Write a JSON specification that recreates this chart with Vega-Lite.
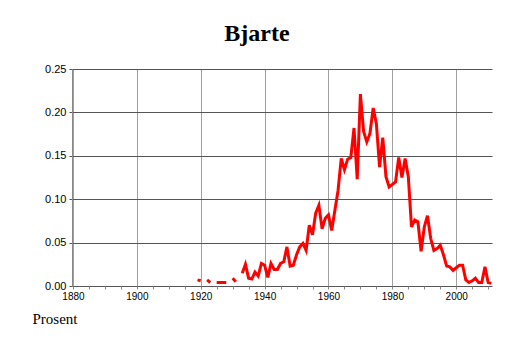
{
  "$schema": "https://vega.github.io/schema/vega-lite/v6.json",
  "autosize": "none",
  "width": 420,
  "height": 217,
  "padding": {"left": 72, "top": 69, "right": 22, "bottom": 57},
  "background": "white",
  "title": {
    "text": "Bjarte",
    "font": "Liberation Serif",
    "fontSize": 24,
    "fontWeight": "bold",
    "color": "black",
    "anchor": "middle",
    "dx": -25,
    "offset": -2,
    "baseline": "alphabetic"
  },
  "config": {
    "view": {"stroke": null}
  },
  "data": {
    "values": [
      {"year": 1919, "value": 0.007},
      {"year": 1920, "value": 0.006},
      {"year": 1921, "value": null},
      {"year": 1922, "value": 0.007},
      {"year": 1923, "value": 0.004},
      {"year": 1924, "value": null},
      {"year": 1925, "value": 0.004},
      {"year": 1926, "value": 0.004},
      {"year": 1927, "value": 0.004},
      {"year": 1928, "value": 0.004},
      {"year": 1929, "value": null},
      {"year": 1930, "value": 0.009},
      {"year": 1931, "value": 0.005},
      {"year": 1932, "value": null},
      {"year": 1933, "value": 0.0146},
      {"year": 1934, "value": 0.025},
      {"year": 1935, "value": 0.009},
      {"year": 1936, "value": 0.008},
      {"year": 1937, "value": 0.016},
      {"year": 1938, "value": 0.0115},
      {"year": 1939, "value": 0.026},
      {"year": 1940, "value": 0.024},
      {"year": 1941, "value": 0.010},
      {"year": 1942, "value": 0.026},
      {"year": 1943, "value": 0.019},
      {"year": 1944, "value": 0.019},
      {"year": 1945, "value": 0.026},
      {"year": 1946, "value": 0.028},
      {"year": 1947, "value": 0.045},
      {"year": 1948, "value": 0.023},
      {"year": 1949, "value": 0.024},
      {"year": 1950, "value": 0.036},
      {"year": 1951, "value": 0.045},
      {"year": 1952, "value": 0.049},
      {"year": 1953, "value": 0.041},
      {"year": 1954, "value": 0.070},
      {"year": 1955, "value": 0.059},
      {"year": 1956, "value": 0.084},
      {"year": 1957, "value": 0.093},
      {"year": 1958, "value": 0.066},
      {"year": 1959, "value": 0.078},
      {"year": 1960, "value": 0.082},
      {"year": 1961, "value": 0.064},
      {"year": 1962, "value": 0.087},
      {"year": 1963, "value": 0.110},
      {"year": 1964, "value": 0.147},
      {"year": 1965, "value": 0.134},
      {"year": 1966, "value": 0.146},
      {"year": 1967, "value": 0.148},
      {"year": 1968, "value": 0.182},
      {"year": 1969, "value": 0.123},
      {"year": 1970, "value": 0.221},
      {"year": 1971, "value": 0.178},
      {"year": 1972, "value": 0.166},
      {"year": 1973, "value": 0.176},
      {"year": 1974, "value": 0.205},
      {"year": 1975, "value": 0.187},
      {"year": 1976, "value": 0.137},
      {"year": 1977, "value": 0.171},
      {"year": 1978, "value": 0.126},
      {"year": 1979, "value": 0.114},
      {"year": 1980, "value": 0.117},
      {"year": 1981, "value": 0.120},
      {"year": 1982, "value": 0.148},
      {"year": 1983, "value": 0.125},
      {"year": 1984, "value": 0.147},
      {"year": 1985, "value": 0.126},
      {"year": 1986, "value": 0.068},
      {"year": 1987, "value": 0.076},
      {"year": 1988, "value": 0.074},
      {"year": 1989, "value": 0.040},
      {"year": 1990, "value": 0.068},
      {"year": 1991, "value": 0.081},
      {"year": 1992, "value": 0.055},
      {"year": 1993, "value": 0.041},
      {"year": 1994, "value": 0.043},
      {"year": 1995, "value": 0.047},
      {"year": 1996, "value": 0.036},
      {"year": 1997, "value": 0.023},
      {"year": 1998, "value": 0.022},
      {"year": 1999, "value": 0.018},
      {"year": 2000, "value": 0.021},
      {"year": 2001, "value": 0.024},
      {"year": 2002, "value": 0.024},
      {"year": 2003, "value": 0.007},
      {"year": 2004, "value": 0.004},
      {"year": 2005, "value": 0.006},
      {"year": 2006, "value": 0.009},
      {"year": 2007, "value": 0.004},
      {"year": 2008, "value": 0.004},
      {"year": 2009, "value": 0.022},
      {"year": 2010, "value": 0.004},
      {"year": 2011, "value": 0.003}
    ]
  },
  "mark": {
    "type": "line",
    "color": "#ff0000",
    "strokeWidth": 3,
    "invalid": "break-paths-show-domains",
    "clip": true
  },
  "encoding": {
    "x": {
      "field": "year",
      "type": "quantitative",
      "scale": {"domain": [1879.7, 2011.2], "nice": false, "zero": false},
      "axis": {
        "values": [1880,1885,1890,1895,1900,1905,1910,1915,1920,1925,1930,1935,1940,1945,1950,1955,1960,1965,1970,1975,1980,1985,1990,1995,2000,2005,2010],
        "labelExpr": "datum.value % 20 === 0 ? datum.label : ''",
        "format": "d",
        "grid": true,
        "gridColor": "#a0a0a0",
        "gridOpacity": {"condition": {"test": "datum.value % 20 === 0", "value": 1}, "value": 0},
        "domain": false,
        "tickColor": "#888888",
        "tickSize": 3,
        "labelFont": "Liberation Sans",
        "labelFontSize": 10,
        "labelColor": "black",
        "labelPadding": 2,
        "labelOverlap": false,
        "labelFlush": false,
        "title": "Prosent",
        "titleFont": "Liberation Serif",
        "titleFontSize": 15,
        "titleFontWeight": "normal",
        "titleColor": "black",
        "titleX": -40,
        "titleY": 37,
        "titleAlign": "left",
        "titleBaseline": "alphabetic"
      }
    },
    "y": {
      "field": "value",
      "type": "quantitative",
      "scale": {"domain": [0, 0.25], "nice": false},
      "axis": {
        "values": [0, 0.05, 0.1, 0.15, 0.2, 0.25],
        "format": ".2f",
        "grid": true,
        "gridColor": "#555555",
        "gridOpacity": 1,
        "domainColor": "#888888",
        "tickColor": "#555555",
        "tickSize": 3,
        "labelFont": "Liberation Sans",
        "labelFontSize": 11,
        "labelColor": "black",
        "labelPadding": 3,
        "title": null
      }
    }
  }
}
